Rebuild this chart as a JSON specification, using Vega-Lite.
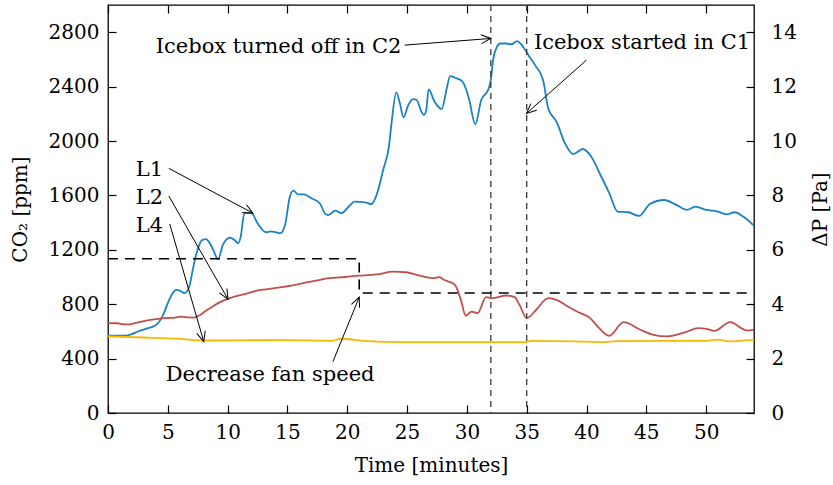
{
  "$schema": "https://vega.github.io/schema/vega-lite/v6.json",
  "width": 646,
  "height": 408,
  "autosize": {"type": "none"},
  "padding": {"left": 108, "top": 5, "right": 79, "bottom": 72},
  "background": "white",
  "config": {
    "font": "DejaVu Serif",
    "view": {"stroke": "black", "strokeWidth": 1.3},
    "axis": {
      "grid": false,
      "domain": false,
      "offset": -8,
      "tickColor": "black",
      "tickWidth": 1.2,
      "tickSize": 8,
      "labelFont": "DejaVu Serif",
      "labelFontSize": 20,
      "labelColor": "black",
      "labelFlush": false,
      "labelOverlap": false,
      "format": "d",
      "titleFont": "DejaVu Serif",
      "titleFontSize": 20,
      "titleFontWeight": "normal",
      "titleColor": "black"
    },
    "axisLeft": {"labelPadding": 9, "titlePadding": 18},
    "axisRight": {"labelPadding": 17, "titlePadding": 34},
    "axisBottom": {"labelPadding": 9, "titlePadding": 13},
    "axisTop": {"labels": false},
    "text": {"font": "DejaVu Serif", "fontSize": 21, "color": "black"}
  },
  "datasets": {
    "series": [
      {"t": 0, "v": 570, "s": "L1"}, {"t": 0.7, "v": 568, "s": "L1"}, {"t": 1.4, "v": 568, "s": "L1"}, {"t": 2.0, "v": 580, "s": "L1"},
      {"t": 2.5, "v": 599, "s": "L1"}, {"t": 3.2, "v": 620, "s": "L1"}, {"t": 3.9, "v": 641, "s": "L1"}, {"t": 4.3, "v": 673, "s": "L1"},
      {"t": 4.7, "v": 740, "s": "L1"}, {"t": 5.0, "v": 808, "s": "L1"}, {"t": 5.4, "v": 880, "s": "L1"}, {"t": 5.7, "v": 905, "s": "L1"},
      {"t": 6.0, "v": 900, "s": "L1"}, {"t": 6.4, "v": 881, "s": "L1"}, {"t": 6.8, "v": 930, "s": "L1"}, {"t": 7.1, "v": 1060, "s": "L1"},
      {"t": 7.4, "v": 1175, "s": "L1"}, {"t": 7.9, "v": 1273, "s": "L1"}, {"t": 8.2, "v": 1278, "s": "L1"}, {"t": 8.5, "v": 1250, "s": "L1"},
      {"t": 8.8, "v": 1199, "s": "L1"}, {"t": 9.2, "v": 1131, "s": "L1"}, {"t": 9.6, "v": 1236, "s": "L1"}, {"t": 10.2, "v": 1290, "s": "L1"},
      {"t": 10.6, "v": 1270, "s": "L1"}, {"t": 10.9, "v": 1248, "s": "L1"}, {"t": 11.1, "v": 1300, "s": "L1"}, {"t": 11.4, "v": 1469, "s": "L1"},
      {"t": 12.0, "v": 1469, "s": "L1"}, {"t": 12.5, "v": 1395, "s": "L1"}, {"t": 13.2, "v": 1329, "s": "L1"}, {"t": 13.6, "v": 1336, "s": "L1"},
      {"t": 14.0, "v": 1330, "s": "L1"}, {"t": 14.4, "v": 1322, "s": "L1"}, {"t": 14.8, "v": 1383, "s": "L1"}, {"t": 15.2, "v": 1591, "s": "L1"},
      {"t": 15.5, "v": 1635, "s": "L1"}, {"t": 15.9, "v": 1608, "s": "L1"}, {"t": 16.4, "v": 1608, "s": "L1"}, {"t": 17.0, "v": 1579, "s": "L1"},
      {"t": 17.7, "v": 1542, "s": "L1"}, {"t": 18.2, "v": 1461, "s": "L1"}, {"t": 18.4, "v": 1456, "s": "L1"}, {"t": 19.0, "v": 1488, "s": "L1"},
      {"t": 19.5, "v": 1469, "s": "L1"}, {"t": 20.2, "v": 1525, "s": "L1"}, {"t": 20.6, "v": 1554, "s": "L1"}, {"t": 21.6, "v": 1547, "s": "L1"},
      {"t": 22.0, "v": 1535, "s": "L1"}, {"t": 22.4, "v": 1591, "s": "L1"}, {"t": 23.0, "v": 1787, "s": "L1"}, {"t": 23.5, "v": 1970, "s": "L1"},
      {"t": 23.7, "v": 2130, "s": "L1"}, {"t": 24.1, "v": 2357, "s": "L1"}, {"t": 24.4, "v": 2277, "s": "L1"}, {"t": 24.7, "v": 2174, "s": "L1"},
      {"t": 25.1, "v": 2264, "s": "L1"}, {"t": 25.5, "v": 2308, "s": "L1"}, {"t": 25.8, "v": 2301, "s": "L1"}, {"t": 26.2, "v": 2215, "s": "L1"},
      {"t": 26.4, "v": 2191, "s": "L1"}, {"t": 26.6, "v": 2227, "s": "L1"}, {"t": 26.8, "v": 2380, "s": "L1"}, {"t": 27.3, "v": 2288, "s": "L1"},
      {"t": 27.9, "v": 2235, "s": "L1"}, {"t": 28.3, "v": 2380, "s": "L1"}, {"t": 28.6, "v": 2477, "s": "L1"}, {"t": 29.0, "v": 2465, "s": "L1"},
      {"t": 29.6, "v": 2440, "s": "L1"}, {"t": 30.0, "v": 2362, "s": "L1"}, {"t": 30.2, "v": 2301, "s": "L1"}, {"t": 30.7, "v": 2122, "s": "L1"},
      {"t": 31.2, "v": 2301, "s": "L1"}, {"t": 31.8, "v": 2380, "s": "L1"}, {"t": 32.0, "v": 2450, "s": "L1"}, {"t": 32.2, "v": 2600, "s": "L1"},
      {"t": 32.5, "v": 2690, "s": "L1"}, {"t": 32.8, "v": 2717, "s": "L1"}, {"t": 33.3, "v": 2717, "s": "L1"}, {"t": 33.7, "v": 2710, "s": "L1"},
      {"t": 34.2, "v": 2734, "s": "L1"}, {"t": 34.5, "v": 2715, "s": "L1"}, {"t": 34.8, "v": 2680, "s": "L1"}, {"t": 35.3, "v": 2610, "s": "L1"},
      {"t": 35.7, "v": 2558, "s": "L1"}, {"t": 36.4, "v": 2435, "s": "L1"}, {"t": 36.8, "v": 2240, "s": "L1"}, {"t": 37.5, "v": 2141, "s": "L1"},
      {"t": 38.2, "v": 1983, "s": "L1"}, {"t": 38.9, "v": 1904, "s": "L1"}, {"t": 39.7, "v": 1941, "s": "L1"}, {"t": 40.3, "v": 1897, "s": "L1"},
      {"t": 41.3, "v": 1726, "s": "L1"}, {"t": 41.9, "v": 1616, "s": "L1"}, {"t": 42.6, "v": 1481, "s": "L1"}, {"t": 43.5, "v": 1476, "s": "L1"},
      {"t": 44.4, "v": 1449, "s": "L1"}, {"t": 45.3, "v": 1537, "s": "L1"}, {"t": 46.5, "v": 1566, "s": "L1"}, {"t": 47.5, "v": 1530, "s": "L1"},
      {"t": 48.4, "v": 1493, "s": "L1"}, {"t": 49.1, "v": 1517, "s": "L1"}, {"t": 50.0, "v": 1493, "s": "L1"}, {"t": 50.9, "v": 1483, "s": "L1"},
      {"t": 51.7, "v": 1461, "s": "L1"}, {"t": 52.4, "v": 1476, "s": "L1"}, {"t": 53.1, "v": 1444, "s": "L1"}, {"t": 54.0, "v": 1376, "s": "L1"},

      {"t": 0, "v": 661, "s": "L2"}, {"t": 0.8, "v": 660, "s": "L2"}, {"t": 1.3, "v": 652, "s": "L2"}, {"t": 1.7, "v": 651, "s": "L2"},
      {"t": 2.3, "v": 662, "s": "L2"}, {"t": 3.1, "v": 678, "s": "L2"}, {"t": 4.0, "v": 690, "s": "L2"}, {"t": 4.7, "v": 698, "s": "L2"},
      {"t": 5.5, "v": 700, "s": "L2"}, {"t": 6.1, "v": 709, "s": "L2"}, {"t": 6.6, "v": 703, "s": "L2"}, {"t": 7.2, "v": 702, "s": "L2"},
      {"t": 7.7, "v": 720, "s": "L2"}, {"t": 8.1, "v": 746, "s": "L2"}, {"t": 8.7, "v": 780, "s": "L2"}, {"t": 9.2, "v": 808, "s": "L2"},
      {"t": 10.2, "v": 845, "s": "L2"}, {"t": 11.4, "v": 874, "s": "L2"}, {"t": 12.8, "v": 905, "s": "L2"}, {"t": 13.5, "v": 912, "s": "L2"},
      {"t": 14.5, "v": 925, "s": "L2"}, {"t": 15.5, "v": 940, "s": "L2"}, {"t": 16.3, "v": 955, "s": "L2"}, {"t": 17.5, "v": 975, "s": "L2"},
      {"t": 18.5, "v": 991, "s": "L2"}, {"t": 19.8, "v": 1000, "s": "L2"}, {"t": 21.0, "v": 1010, "s": "L2"}, {"t": 22.0, "v": 1015, "s": "L2"},
      {"t": 22.7, "v": 1021, "s": "L2"}, {"t": 23.8, "v": 1040, "s": "L2"}, {"t": 24.9, "v": 1035, "s": "L2"}, {"t": 25.8, "v": 1016, "s": "L2"},
      {"t": 26.5, "v": 1000, "s": "L2"}, {"t": 27.2, "v": 991, "s": "L2"}, {"t": 27.7, "v": 999, "s": "L2"}, {"t": 28.0, "v": 984, "s": "L2"},
      {"t": 28.5, "v": 965, "s": "L2"}, {"t": 29.0, "v": 942, "s": "L2"}, {"t": 29.5, "v": 832, "s": "L2"}, {"t": 29.9, "v": 715, "s": "L2"},
      {"t": 30.4, "v": 746, "s": "L2"}, {"t": 30.9, "v": 734, "s": "L2"}, {"t": 31.6, "v": 852, "s": "L2"}, {"t": 32.1, "v": 845, "s": "L2"},
      {"t": 33.3, "v": 864, "s": "L2"}, {"t": 34.0, "v": 852, "s": "L2"}, {"t": 34.4, "v": 795, "s": "L2"}, {"t": 35.0, "v": 698, "s": "L2"},
      {"t": 35.8, "v": 759, "s": "L2"}, {"t": 36.8, "v": 845, "s": "L2"}, {"t": 37.5, "v": 832, "s": "L2"}, {"t": 38.3, "v": 790, "s": "L2"},
      {"t": 39.2, "v": 746, "s": "L2"}, {"t": 40.3, "v": 698, "s": "L2"}, {"t": 41.1, "v": 620, "s": "L2"}, {"t": 41.9, "v": 568, "s": "L2"},
      {"t": 43.1, "v": 668, "s": "L2"}, {"t": 44.5, "v": 612, "s": "L2"}, {"t": 45.6, "v": 575, "s": "L2"}, {"t": 46.7, "v": 563, "s": "L2"},
      {"t": 48.4, "v": 599, "s": "L2"}, {"t": 49.3, "v": 624, "s": "L2"}, {"t": 50.0, "v": 619, "s": "L2"}, {"t": 50.7, "v": 604, "s": "L2"},
      {"t": 52.0, "v": 668, "s": "L2"}, {"t": 53.4, "v": 607, "s": "L2"}, {"t": 54.0, "v": 612, "s": "L2"},

      {"t": 0, "v": 563, "s": "L4"}, {"t": 3, "v": 555, "s": "L4"}, {"t": 6, "v": 545, "s": "L4"}, {"t": 8, "v": 533, "s": "L4"},
      {"t": 12, "v": 535, "s": "L4"}, {"t": 15, "v": 536, "s": "L4"}, {"t": 18.7, "v": 531, "s": "L4"}, {"t": 19.5, "v": 546, "s": "L4"},
      {"t": 21.3, "v": 531, "s": "L4"}, {"t": 24.7, "v": 521, "s": "L4"}, {"t": 30, "v": 521, "s": "L4"}, {"t": 35, "v": 521, "s": "L4"},
      {"t": 35.3, "v": 531, "s": "L4"}, {"t": 39, "v": 527, "s": "L4"}, {"t": 41.5, "v": 521, "s": "L4"},
      {"t": 42.5, "v": 528, "s": "L4"}, {"t": 50, "v": 531, "s": "L4"}, {"t": 51, "v": 540, "s": "L4"}, {"t": 52, "v": 526, "s": "L4"},
      {"t": 53.6, "v": 536, "s": "L4"}, {"t": 54, "v": 533, "s": "L4"}
    ],
    "events": [{"t": 32}, {"t": 35}],
    "fan": [
      {"t": 0, "pa": 5.67, "k": 1}, {"t": 21, "pa": 5.67, "k": 2},
      {"t": 21, "pa": 4.41, "k": 3}, {"t": 54, "pa": 4.41, "k": 4}
    ],
    "arrows": [
      {"t": 24.8, "v": 2705, "t2": 32.0, "v2": 2754},
      {"t": 40.0, "v": 2595, "t2": 34.98, "v2": 2203},
      {"t": 5.08, "v": 1799, "t2": 12.12, "v2": 1469},
      {"t": 5.08, "v": 1596, "t2": 10.03, "v2": 837},
      {"t": 5.16, "v": 1390, "t2": 8.0, "v2": 526},
      {"t": 18.8, "v": 377, "t2": 21.0, "v2": 852}
    ],
    "heads": [
      {"t": 32.0, "v": 2754, "ang": -4.4},
      {"t": 34.98, "v": 2203, "ang": 138.4},
      {"t": 12.12, "v": 1469, "ang": 28.1},
      {"t": 10.03, "v": 837, "ang": 60.1},
      {"t": 8.0, "v": 526, "ang": 73.9},
      {"t": 21.0, "v": 852, "ang": -67.6}
    ],
    "labelsRight": [
      {"t": 24.53, "v": 2692, "label": "Icebox turned off in C2"},
      {"t": 4.6, "v": 1787, "label": "L1"},
      {"t": 4.6, "v": 1579, "label": "L2"},
      {"t": 4.6, "v": 1378, "label": "L4"}
    ],
    "labelsLeft": [
      {"t": 35.6, "v": 2717, "label": "Icebox started in C1"}
    ],
    "labelsCenter": [
      {"t": 13.55, "v": 281, "label": "Decrease fan speed"}
    ]
  },
  "layer": [
    {
      "encoding": {
        "x": {"field": "t", "type": "quantitative", "title": "Time [minutes]",
              "scale": {"domain": [0, 54], "nice": false, "zero": false},
              "axis": {"orient": "bottom", "values": [0, 5, 10, 15, 20, 25, 30, 35, 40, 45, 50]}},
        "y": {"field": "v", "type": "quantitative", "title": "CO₂ [ppm]",
              "scale": {"domain": [0, 3000], "nice": false},
              "axis": {"orient": "left", "values": [0, 400, 800, 1200, 1600, 2000, 2400, 2800]}}
      },
      "layer": [
        {
          "data": {"name": "series"},
          "mark": {"type": "line", "strokeWidth": 1.8, "interpolate": "monotone"},
          "encoding": {
            "color": {"field": "s", "type": "nominal", "legend": null,
                      "scale": {"domain": ["L1", "L2", "L4"], "range": ["#1a82c4", "#c0504d", "#f9b800"]}}
          }
        },
        {
          "data": {"name": "events"},
          "mark": {"type": "rule", "color": "#3a3a3a", "strokeWidth": 1.3, "strokeDash": [6, 5]},
          "encoding": {"y": null}
        },
        {
          "data": {"name": "arrows"},
          "mark": {"type": "rule", "color": "black", "strokeWidth": 1},
          "encoding": {
            "x2": {"field": "t2"},
            "y2": {"field": "v2"}
          }
        },
        {
          "data": {"name": "heads"},
          "mark": {"type": "point", "shape": "M-1,-0.45L0,0L-1,0.45", "filled": false, "size": 380, "color": "black", "strokeWidth": 1, "opacity": 1},
          "encoding": {
            "angle": {"field": "ang", "type": "quantitative", "scale": null}
          }
        },
        {
          "data": {"name": "labelsRight"},
          "mark": {"type": "text", "align": "right", "baseline": "middle"},
          "encoding": {"text": {"field": "label"}}
        },
        {
          "data": {"name": "labelsLeft"},
          "mark": {"type": "text", "align": "left", "baseline": "middle"},
          "encoding": {"text": {"field": "label"}}
        },
        {
          "data": {"name": "labelsCenter"},
          "mark": {"type": "text", "align": "center", "baseline": "middle"},
          "encoding": {"text": {"field": "label"}}
        }
      ]
    },
    {
      "data": {"name": "fan"},
      "mark": {"type": "line", "color": "black", "strokeWidth": 1.6, "strokeDash": [10, 7]},
      "encoding": {
        "x": {"field": "t", "type": "quantitative", "title": null,
              "scale": {"domain": [0, 54], "nice": false, "zero": false},
              "axis": {"orient": "top", "values": [0, 5, 10, 15, 20, 25, 30, 35, 40, 45, 50]}},
        "y": {"field": "pa", "type": "quantitative", "title": "ΔP [Pa]",
              "scale": {"domain": [0, 15], "nice": false},
              "axis": {"orient": "right", "titleAngle": 270, "values": [0, 2, 4, 6, 8, 10, 12, 14]}},
        "order": {"field": "k", "type": "quantitative"}
      }
    }
  ],
  "resolve": {"scale": {"y": "independent"}, "axis": {"x": "independent"}}
}
